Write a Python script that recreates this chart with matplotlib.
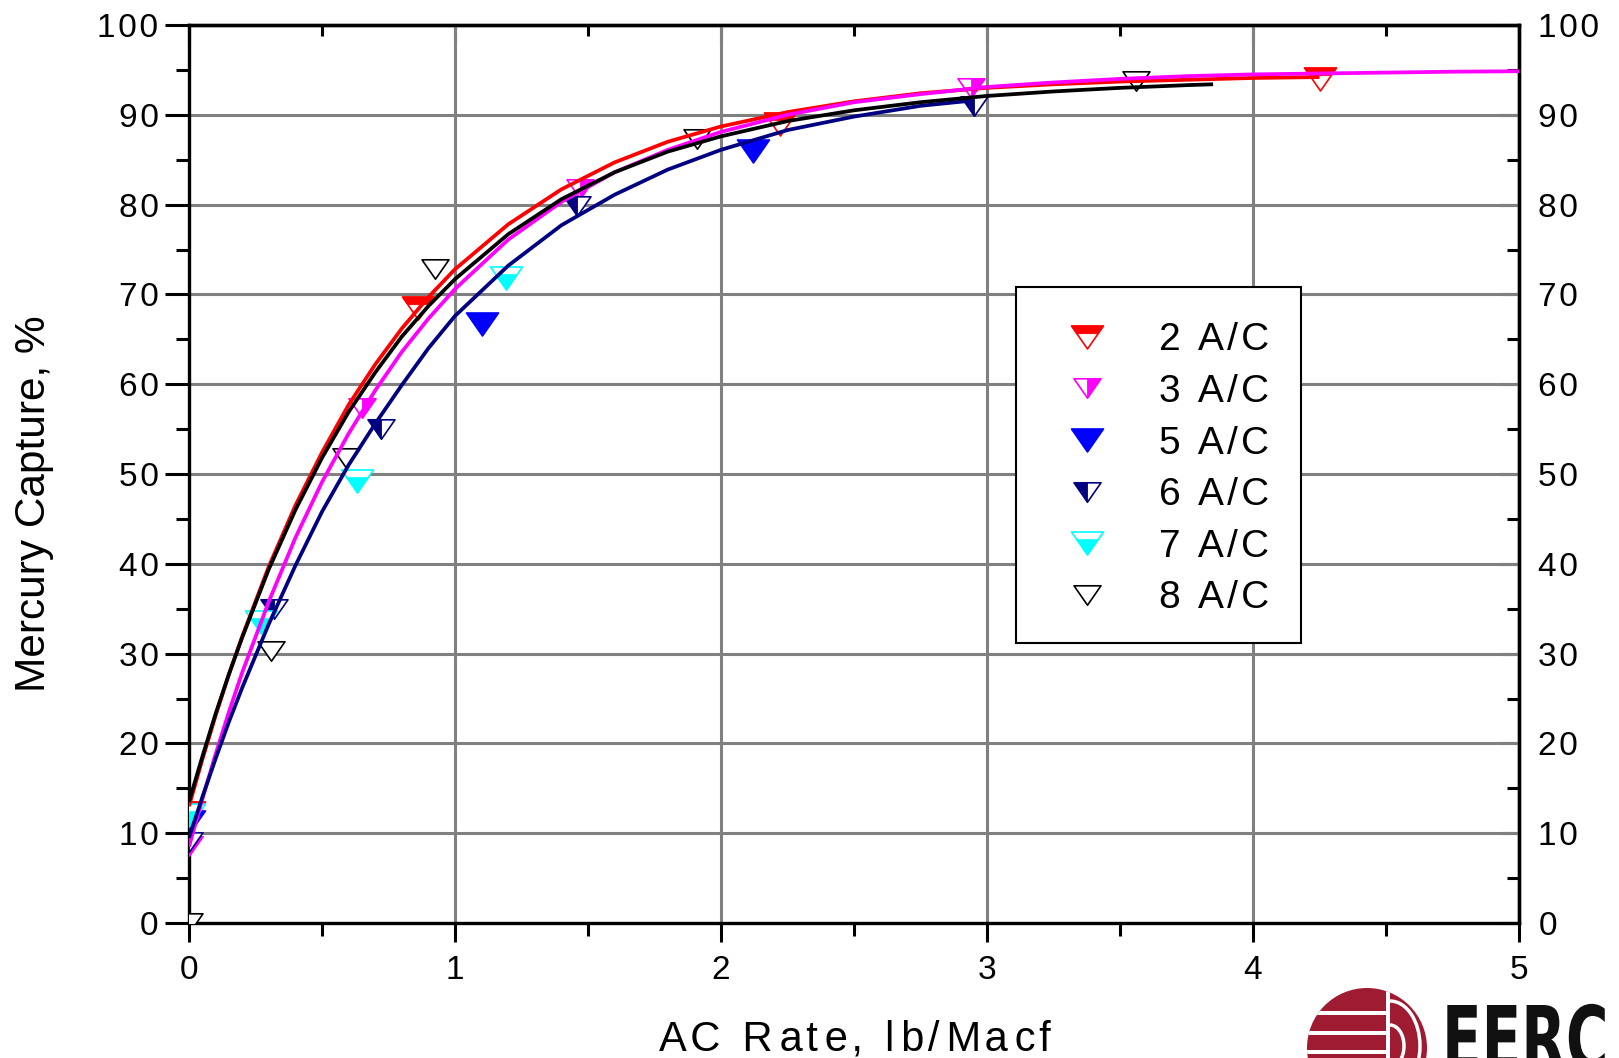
import matplotlib
matplotlib.use("Agg")
import matplotlib.pyplot as plt
from matplotlib.path import Path
from matplotlib.ticker import MultipleLocator, FuncFormatter
from matplotlib.legend_handler import HandlerTuple
from matplotlib.patches import Circle, Rectangle, PathPatch, Arc
from matplotlib.textpath import TextPath
from matplotlib.font_manager import FontProperties
from matplotlib.transforms import Affine2D, IdentityTransform

plt.rcParams['font.family'] = ['Liberation Sans', 'DejaVu Sans']

# ---------------- data ----------------
series_labels = ['2 A/C', '3 A/C', '5 A/C', '6 A/C', '7 A/C', '8 A/C']

x_2ac = [0.0, 0.86, 2.22, 4.25]
y_2ac = [12.3, 68.5, 89.0, 94.0]
x_3ac = [0.0, 0.65, 1.47, 2.94]
y_3ac = [8.6, 57.3, 81.7, 93.0]
x_5ac = [0.0, 1.10, 2.12]
y_5ac = [11.3, 66.7, 86.0]
x_6ac = [0.0, 0.32, 0.72, 1.46, 2.95]
y_6ac = [9.0, 35.0, 55.0, 79.8, 91.0]
x_7ac = [0.0, 0.27, 0.63, 1.19]
y_7ac = [12.0, 33.5, 49.2, 71.8]
x_8ac = [0.0, 0.31, 0.59, 0.925, 1.91, 3.56]
y_8ac = [0.0, 30.3, 51.8, 72.8, 87.3, 93.8]

# fitted curves
fx_2ac = [0, 0.05, 0.1, 0.15, 0.2, 0.3, 0.4, 0.5, 0.6, 0.7, 0.8, 0.9, 1.0, 1.2, 1.4,
          1.6, 1.8, 2.0, 2.25, 2.5, 2.75, 3.0, 3.25, 3.5, 3.75, 4.0, 4.25]
fy_2ac = [13.0, 18.2, 23.1, 27.7, 31.9, 39.7, 46.5, 52.4, 57.7, 62.2, 66.2, 69.7, 72.8, 77.8, 81.7,
          84.7, 87.0, 88.7, 90.3, 91.5, 92.4, 93.0, 93.4, 93.7, 93.9, 94.1, 94.2]
fx_8ac = [0, 0.05, 0.1, 0.15, 0.2, 0.3, 0.4, 0.5, 0.6, 0.7, 0.8, 0.9, 1.0, 1.2, 1.4,
          1.6, 1.8, 2.0, 2.25, 2.5, 2.75, 3.0, 3.25, 3.5, 3.75, 3.85]
fy_8ac = [13.5, 18.5, 23.3, 27.7, 31.8, 39.4, 46.0, 51.8, 56.9, 61.3, 65.3, 68.7, 71.7, 76.7, 80.6,
          83.6, 85.9, 87.6, 89.3, 90.5, 91.4, 92.1, 92.6, 93.0, 93.3, 93.4]
fx_3ac = [0, 0.05, 0.1, 0.15, 0.2, 0.3, 0.4, 0.5, 0.6, 0.7, 0.8, 0.9, 1.0, 1.2, 1.4,
          1.6, 1.8, 2.0, 2.25, 2.5, 2.75, 3.0, 3.25, 3.5, 3.75, 4.0, 4.25, 4.5, 4.75, 5.0]
fy_3ac = [8.5, 13.8, 18.8, 23.5, 27.9, 35.8, 42.9, 49.1, 54.5, 59.3, 63.6, 67.3, 70.6, 76.1, 80.3,
          83.6, 86.1, 88.1, 90.0, 91.4, 92.3, 93.1, 93.6, 94.0, 94.3, 94.5, 94.6, 94.7, 94.8, 94.85]
fx_6ac = [0, 0.05, 0.1, 0.15, 0.2, 0.3, 0.4, 0.5, 0.6, 0.7, 0.8, 0.9, 1.0, 1.2, 1.4,
          1.6, 1.8, 2.0, 2.25, 2.5, 2.75, 2.95]
fy_6ac = [9.5, 14.0, 18.3, 22.4, 26.2, 33.3, 39.8, 45.8, 51.0, 55.6, 59.9, 64.0, 67.6, 73.2, 77.7,
          81.1, 83.9, 86.1, 88.3, 89.8, 91.0, 91.6]

x_ticks = [0, 1, 2, 3, 4, 5]
y_ticks = [0, 10, 20, 30, 40, 50, 60, 70, 80, 90, 100]

# ---------------- marker shapes ----------------
HW = 0.695
SPLIT = 0.5 - 1.0 / 3.0
HWS = HW * (SPLIT + 0.5)
TRI = [(-HW, 0.5), (HW, 0.5), (0.0, -0.5)]
PIECES = {
    'top': [(-HW, 0.5), (HW, 0.5), (HWS, SPLIT), (-HWS, SPLIT)],
    'bottom': [(-HWS, SPLIT), (HWS, SPLIT), (0.0, -0.5)],
    'left': [(-HW, 0.5), (0.0, 0.5), (0.0, -0.5)],
    'right': [(0.0, 0.5), (HW, 0.5), (0.0, -0.5)],
}


def mk(verts):
    return Path(list(verts) + [verts[0]], closed=True)


def spaced(s):
    return '\u200a'.join(s)


def spaced_wide(s):
    out = s[0]
    for i, ch in enumerate(s[1:]):
        out += '\u200a' * (1 + i % 2) + ch
    return out


W = 1619
H = 1058
fig = plt.figure(figsize=(W / 100, H / 100), dpi=100)
ax = fig.add_axes([189 / W, 1 - 923 / H, 1330 / W, 898 / H])
ax.set_xlim(0, 5)
ax.set_ylim(0, 100)

series = [
    (x_2ac, y_2ac, '#FF0000', 'top', 23),
    (x_3ac, y_3ac, '#FF00FF', 'right', 19.4),
    (x_5ac, y_5ac, '#0000FF', 'full', 23),
    (x_6ac, y_6ac, '#000080', 'left', 19.4),
    (x_7ac, y_7ac, '#00FFFF', 'bottom', 23),
    (x_8ac, y_8ac, '#000000', 'none', 19.4),
]

handles = []
for xs, ys, col, fill, ms in series:
    face = col if fill == 'full' else 'white'
    l0, = ax.plot(xs, ys, ls='none', marker=mk(TRI), ms=ms, mfc=face, mec=col,
                  mew=1.2, zorder=3)
    if fill in PIECES:
        piece = PIECES[fill]
        s = ms * max(abs(v) for p in piece for v in p) / HW
        l1, = ax.plot(xs, ys, ls='none', marker=mk(piece), ms=s, mfc=col, mec=col,
                      mew=0.6, zorder=3)
        handles.append((l0, l1))
    else:
        handles.append((l0,))

curves = [
    (fx_2ac, fy_2ac, '#FF0000'),
    (fx_3ac, fy_3ac, '#FF00FF'),
    (fx_6ac, fy_6ac, '#000080'),
    (fx_8ac, fy_8ac, '#000000'),
]
for fx, fy, col in curves:
    ax.plot(fx, fy, color=col, lw=2.7, zorder=4, solid_capstyle='butt',
            solid_joinstyle='round')

# grid / spines / ticks
ax.set_axisbelow(True)
ax.grid(True, which='major', color='#808080', lw=2.2)
for sp in ax.spines.values():
    sp.set_linewidth(2.4)
    sp.set_color('black')

ax.set_xticks(x_ticks)
ax.set_yticks(y_ticks)
ax.xaxis.set_minor_locator(MultipleLocator(0.5))
ax.yaxis.set_minor_locator(MultipleLocator(5))
ax.xaxis.set_major_formatter(FuncFormatter(lambda v, p: spaced('%d' % round(v))))
ax.yaxis.set_major_formatter(FuncFormatter(lambda v, p: spaced('%d' % round(v))))
ax.tick_params(axis='x', which='both', direction='out', top=False, width=2.2,
               labelsize=24, pad=9)
ax.tick_params(axis='x', which='major', length=14)
ax.tick_params(axis='x', which='minor', length=9)
ax.tick_params(axis='y', which='both', direction='out', right=False, width=2.2,
               labelsize=24, pad=5)
ax.tick_params(axis='y', which='major', length=17)
ax.tick_params(axis='y', which='minor', length=9.5)

top = ax.secondary_xaxis('top')
top.set_xticks(x_ticks)
top.xaxis.set_minor_locator(MultipleLocator(0.5))
top.tick_params(which='both', direction='in', width=2.2, labeltop=False)
top.tick_params(which='major', length=13)
top.tick_params(which='minor', length=8)
top.spines['top'].set_linewidth(2.4)

right = ax.secondary_yaxis('right')
right.set_yticks(y_ticks)
right.yaxis.set_minor_locator(MultipleLocator(5))
right.yaxis.set_major_formatter(FuncFormatter(lambda v, p: spaced('%d' % round(v))))
right.tick_params(which='both', direction='in', width=2.2, labelsize=24, pad=14)
right.tick_params(which='major', length=14)
right.tick_params(which='minor', length=8.5)
right.spines['right'].set_linewidth(2.4)

# axis titles
fig.text(34 / W, 1 - 504 / H, 'Mercury Capture, %', rotation=90, ha='center',
         va='center', fontsize=30.5)
fig.text(855 / W, (H - 1051) / H, spaced_wide('AC Rate, lb/Macf'), ha='center',
         va='baseline', fontsize=30)

# legend: frame drawn as its own box, entries placed inside
frame = Rectangle((0.6218, 0.3118), 0.2143, 0.3964, transform=ax.transAxes,
                  facecolor='white', edgecolor='black', lw=1.5, zorder=9)
ax.add_patch(frame)
leg = ax.legend(handles, [spaced(s) for s in series_labels], loc='upper left',
                bbox_to_anchor=(0.6218, 0.6904), borderaxespad=0, frameon=False,
                fontsize=28, handlelength=2.65, handletextpad=0.53, borderpad=0.5,
                labelspacing=0.40, numpoints=1,
                handler_map={tuple: HandlerTuple(ndivide=1, pad=0)})
leg.set_zorder(10)

# EERC logo (partially cut off at figure edge)
idt = IdentityTransform()


def py(yf):
    return H - yf


circ = Circle((1367, py(1048)), 60, facecolor='#9E1B32', edgecolor='none',
              transform=idt)
fig.add_artist(circ)
for yy in (1013, 1033, 1052):
    r = Rectangle((1300, py(yy) - 2), 88, 4, facecolor='white', edgecolor='none',
                  transform=idt)
    fig.add_artist(r)
    r.set_clip_path(circ)
vr = Rectangle((1386, py(1070)), 4, 90, facecolor='white', edgecolor='none',
               transform=idt)
fig.add_artist(vr)
vr.set_clip_path(circ)
for rad in (30, 14):
    a = Arc((1390, py(1046)), 2 * rad, 2 * rad * 1.5, theta1=-90, theta2=90,
            color='white', lw=2.5, transform=idt)
    fig.add_artist(a)
    a.set_clip_path(circ)

tp = TextPath((0, 0), 'EERC', size=1,
              prop=FontProperties(family='DejaVu Sans', weight='bold'))
xmin = tp.vertices[:, 0].min()
sx, sy = 58, 89
tr = Affine2D().scale(sx, sy).translate(1442 - sx * xmin, py(1005) - sy * 0.729)
fig.add_artist(PathPatch(tp, facecolor='#111111', edgecolor='none', transform=tr))

fig.savefig('out.png', dpi=100)
